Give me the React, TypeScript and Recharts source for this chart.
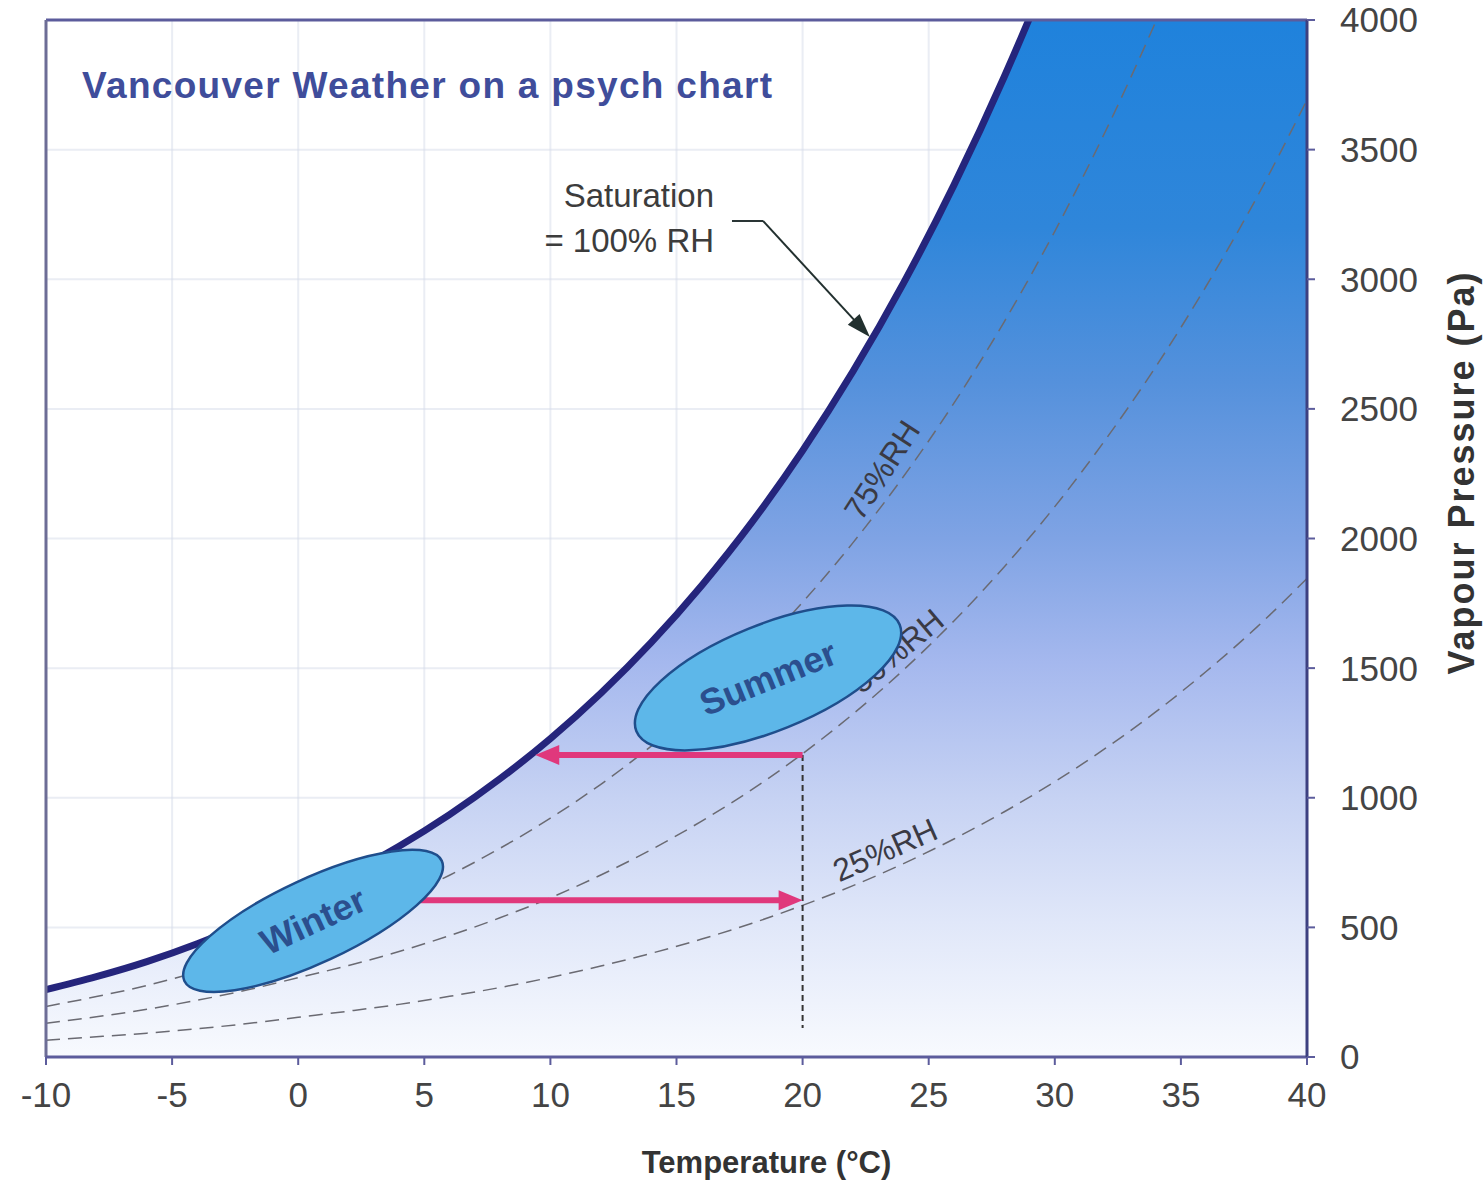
import {
  ComposedChart,
  Area,
  Line,
  XAxis,
  YAxis,
  CartesianGrid,
  ReferenceLine,
  ReferenceDot,
} from "recharts"

// temperature (°C) and vapour pressure (Pa)
const TEMPS = [-10, -8, -6, -4, -2, 0, 2, 4, 6, 8, 10, 12, 14, 16, 18, 20, 22, 24, 26, 28, 30, 32, 34, 36, 38, 40]
const SATURATION = [260, 310, 368, 437, 517, 611, 706, 813, 935, 1073, 1228, 1403, 1599, 1819, 2064, 2339, 2645, 2985, 3363, 3782, 4246, 4759, 5324, 5946, 6628, 7384]
const RH75 = [195, 233, 276, 328, 388, 458, 530, 610, 701, 805, 921, 1052, 1199, 1364, 1548, 1754, 1984, 2239, 2522, 2837, 3185, 3569, 3993, 4460, 4971, 5538]
const RH50 = [130, 155, 184, 219, 259, 306, 353, 407, 468, 537, 614, 702, 800, 910, 1032, 1170, 1323, 1493, 1682, 1891, 2123, 2380, 2662, 2973, 3314, 3692]
const RH25 = [65, 78, 92, 109, 129, 153, 177, 203, 234, 268, 307, 351, 400, 455, 516, 585, 661, 746, 841, 946, 1062, 1190, 1331, 1487, 1657, 1846]

const X_TICKS = [-10, -5, 0, 5, 10, 15, 20, 25, 30, 35, 40]
const Y_TICKS = [0, 500, 1000, 1500, 2000, 2500, 3000, 3500, 4000]

// summer cooling / winter heating moves
const SUMMER_ARROW = [{ x: 20, y: 1165 }, { x: 9.4, y: 1165 }]
const WINTER_ARROW = [{ x: 4.25, y: 605 }, { x: 20, y: 605 }]
const DROP_LINE = [{ x: 20, y: 1165 }, { x: 20, y: 112 }]

const data = TEMPS.map((t, i) => ({
  t,
  sat: SATURATION[i],
  rh75: RH75[i],
  rh50: RH50[i],
  rh25: RH25[i],
}))

const FONT = "'Liberation Sans', Arial, Helvetica, sans-serif"
const AXIS = "#5c5c9c"

function arrowShape(color: string, width: number, head: number, headW: number) {
  return (p: any) => {
    const { x1, y1, x2, y2 } = p
    const dx = x2 - x1
    const dy = y2 - y1
    const len = Math.hypot(dx, dy) || 1
    const ux = dx / len
    const uy = dy / len
    const bx = x2 - ux * head
    const by = y2 - uy * head
    const nx = (-uy * headW) / 2
    const ny = (ux * headW) / 2
    return (
      <g>
        <line x1={x1} y1={y1} x2={bx + ux * 2} y2={by + uy * 2} stroke={color} strokeWidth={width} />
        <polygon points={`${x2},${y2} ${bx + nx},${by + ny} ${bx - nx},${by - ny}`} fill={color} />
      </g>
    )
  }
}

function blob(label: string, a: number, b: number, angle: number) {
  return (p: any) => (
    <g transform={`translate(${p.cx},${p.cy}) rotate(${angle})`}>
      <ellipse rx={a} ry={b} fill="#5db7e9" stroke="#1f4e8c" strokeWidth={2.5} />
      <text
        textAnchor="middle"
        dominantBaseline="central"
        fontSize={36}
        fontWeight="bold"
        fontFamily={FONT}
        fill="#2b4f8e"
      >
        {label}
      </text>
    </g>
  )
}

function tilted(label: string, angle: number) {
  return (p: any) => (
    <text
      transform={`translate(${p.cx},${p.cy}) rotate(${angle})`}
      textAnchor="middle"
      dominantBaseline="central"
      fontSize={32}
      fontFamily={FONT}
      fill="#3a3a44"
    >
      {label}
    </text>
  )
}

const satLabel = (p: any) => (
  <g fontFamily={FONT} fontSize={33} fill="#3c3c3c" textAnchor="end">
    <text x={p.cx} y={p.cy}>Saturation</text>
    <text x={p.cx} y={p.cy + 45}>= 100% RH</text>
  </g>
)

const title = (p: any) => (
  <text
    x={p.cx}
    y={p.cy}
    fontFamily={FONT}
    fontSize={37}
    fontWeight="bold"
    letterSpacing={1.3}
    fill="#3f4d9b"
  >
    Vancouver Weather on a psych chart
  </text>
)

const plainLine = (p: any) => <line x1={p.x1} y1={p.y1} x2={p.x2} y2={p.y2} stroke="#2a3535" strokeWidth={2} />

export default function App() {
  return (
    <div
      style={{
        position: "absolute",
        left: 0,
        top: 0,
        width: 1483,
        height: 1183,
        background: "#fff",
        fontFamily: FONT,
      }}
    >
      <ComposedChart
        width={1483}
        height={1183}
        data={data}
        margin={{ top: 20, right: 26, left: 46, bottom: 36 }}
      >
        <defs>
          <linearGradient id="wetGrad" gradientUnits="userSpaceOnUse" x1="0" y1="20" x2="0" y2="1057">
            <stop offset="0" stopColor="#1f82dc" />
            <stop offset="0.2" stopColor="#2f86da" />
            <stop offset="0.35" stopColor="#5591dc" />
            <stop offset="0.5" stopColor="#7fa3e4" />
            <stop offset="0.62" stopColor="#a5b8ee" />
            <stop offset="0.75" stopColor="#c6d2f3" />
            <stop offset="0.87" stopColor="#e0e7f9" />
            <stop offset="1" stopColor="#f8fafe" />
          </linearGradient>
        </defs>
        <XAxis
          type="number"
          dataKey="t"
          domain={[-10, 40]}
          ticks={X_TICKS}
          allowDataOverflow
          height={90}
          tickSize={8}
          tickMargin={17}
          axisLine={{ stroke: AXIS, strokeWidth: 3 }}
          tickLine={{ stroke: AXIS, strokeWidth: 2 }}
          tick={{ fontSize: 35, fill: "#444", fontFamily: FONT }}
          label={{
            content: (p: any) => (
              <text
                x={p.viewBox.x + p.viewBox.width / 2 + 90}
                y={p.viewBox.y + 116}
                textAnchor="middle"
                fontSize={31}
                fontWeight="bold"
                fontFamily={FONT}
                fill="#333"
              >
                Temperature (°C)
              </text>
            ),
          }}
        />
        <YAxis
          orientation="right"
          type="number"
          domain={[0, 4000]}
          ticks={Y_TICKS}
          allowDataOverflow
          width={150}
          tickSize={8}
          tickMargin={25}
          axisLine={{ stroke: "#3d4080", strokeWidth: 3 }}
          tickLine={{ stroke: AXIS, strokeWidth: 2 }}
          tick={{ fontSize: 35, fill: "#444", fontFamily: FONT }}
          label={{
            content: (p: any) => {
              const cx = p.viewBox.x + 154
              const cy = p.viewBox.y + p.viewBox.height / 2 - 66
              return (
                <text
                  transform={`translate(${cx},${cy}) rotate(-90)`}
                  textAnchor="middle"
                  dominantBaseline="central"
                  fontSize={36}
                  fontWeight="bold"
                  letterSpacing={2}
                  fontFamily={FONT}
                  fill="#333"
                >
                  Vapour Pressure (Pa)
                </text>
              )
            },
          }}
        />
        <Area
          dataKey="sat"
          type="monotone"
          stroke="none"
          fill="url(#wetGrad)"
          fillOpacity={1}
          isAnimationActive={false}
        />
        <CartesianGrid stroke="#d6dcea" strokeOpacity={0.5} strokeWidth={2} />
        <Line dataKey="rh75" type="monotone" stroke="#6a6a72" strokeWidth={1.5} strokeDasharray="14 8" dot={false} isAnimationActive={false} />
        <Line dataKey="rh50" type="monotone" stroke="#6a6a72" strokeWidth={1.5} strokeDasharray="14 8" dot={false} isAnimationActive={false} />
        <Line dataKey="rh25" type="monotone" stroke="#6a6a72" strokeWidth={1.5} strokeDasharray="14 8" dot={false} isAnimationActive={false} />
        <Line dataKey="sat" type="monotone" stroke="#25257c" strokeWidth={7} dot={false} isAnimationActive={false} />
        <ReferenceLine y={4000} stroke={AXIS} strokeWidth={3} />
        <ReferenceLine x={-10} stroke="#6d6d96" strokeWidth={3} />
        <ReferenceLine segment={DROP_LINE} stroke="#333" strokeWidth={2} strokeDasharray="6 4" />
        <ReferenceDot x={23.15} y={2264} r={0} shape={tilted("75%RH", -57)} />
        <ReferenceDot x={23.74} y={1566} r={0} shape={tilted("50%RH", -40)} />
        <ReferenceDot x={23.27} y={798} r={0} shape={tilted("25%RH", -24)} />
        <ReferenceDot x={18.63} y={1462} r={0} shape={blob("Summer", 142, 53, -22)} />
        <ReferenceDot x={0.59} y={525} r={0} shape={blob("Winter", 142, 42, -25)} />
        <ReferenceLine segment={SUMMER_ARROW} shape={arrowShape("#e0387c", 6, 24, 20)} />
        <ReferenceLine segment={WINTER_ARROW} shape={arrowShape("#e0387c", 6, 24, 20)} />
        <ReferenceDot x={16.49} y={3279} r={0} shape={satLabel} />
        <ReferenceLine segment={[{ x: 17.2, y: 3225 }, { x: 18.43, y: 3225 }]} shape={plainLine} />
        <ReferenceLine segment={[{ x: 18.43, y: 3225 }, { x: 22.67, y: 2777 }]} shape={arrowShape("#22302f", 2, 24, 16)} />
        <ReferenceDot x={-8.57} y={3699} r={0} shape={title} />
      </ComposedChart>
    </div>
  )
}
